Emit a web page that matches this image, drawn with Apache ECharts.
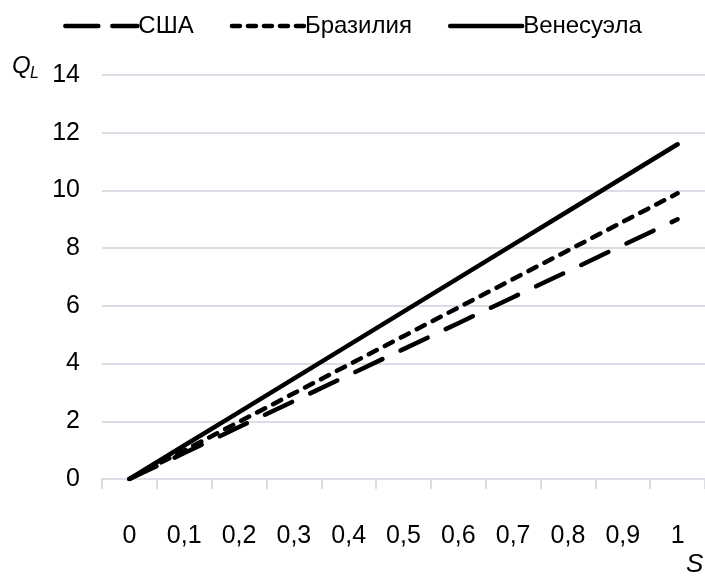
<!DOCTYPE html>
<html><head><meta charset="utf-8">
<script src="https://cdn.jsdelivr.net/npm/echarts@6/dist/echarts.min.js"></script>
<style>html,body{margin:0;padding:0;background:#fff}#c{width:705px;height:576px}</style>
</head><body><div id="c"></div>
<script>
var categories = ['0','0,1','0,2','0,3','0,4','0,5','0,6','0,7','0,8','0,9','1'];
var seriesNames = ['США','Бразилия','Венесуэла'];
var usa = [0, 0.9, 1.8, 2.7, 3.6, 4.5, 5.4, 6.3, 7.2, 8.1, 9.0];
var brazil = [0, 0.99, 1.98, 2.97, 3.96, 4.95, 5.94, 6.93, 7.92, 8.91, 9.9];
var venezuela = [0, 1.16, 2.32, 3.48, 4.64, 5.8, 6.96, 8.12, 9.28, 10.44, 11.6];
var yTicks = {min: 0, max: 14, interval: 2};

var FONT = "'Liberation Sans Narrow', 'Arial Narrow', 'Liberation Sans', sans-serif";
var chart = echarts.init(document.getElementById('c'));
function ls(type) {
  return {color: '#000', width: 4.5, type: type, cap: 'round', join: 'round'};
}
chart.setOption({
  animation: false,
  textStyle: {fontFamily: FONT},
  legend: {
    top: 9, left: 'center', itemGap: 36, itemWidth: 72, itemHeight: 14,
    textStyle: {fontFamily: FONT, fontSize: 24, color: '#000', padding: [0,0,0,-4]},
    itemStyle: {opacity: 0},
    lineStyle: {width: 4.5, cap: 'round'},
    data: [
      {name: seriesNames[0], lineStyle: {type: [33, 14]}},
      {name: seriesNames[1], lineStyle: {type: [8, 8]}},
      {name: seriesNames[2], lineStyle: {type: 'solid'}}
    ]
  },
  grid: {left: 102, top: 75, bottom: 97, width: 609.5},
  xAxis: {
    type: 'category', data: categories, boundaryGap: true,
    axisLine: {lineStyle: {color: '#d9dde5', width: 2}},
    axisTick: {show: true, length: 10, lineStyle: {color: '#d9dde5', width: 2}},
    axisLabel: {fontFamily: FONT, fontSize: 25, color: '#000', margin: 45},
    splitLine: {show: false}
  },
  yAxis: {
    type: 'value', min: yTicks.min, max: yTicks.max, interval: yTicks.interval,
    axisLine: {show: false}, axisTick: {show: false},
    axisLabel: {fontFamily: FONT, fontSize: 25, color: '#000', margin: 22},
    splitLine: {lineStyle: {color: '#d9dde5', width: 2}}
  },
  graphic: [
    {type: 'text', left: 12, top: 54, style: {text: 'Q', font: 'italic 24px ' + FONT, fill: '#000'}},
    {type: 'text', left: 30, top: 66, style: {text: 'L', font: 'italic 16px ' + FONT, fill: '#000'}},
    {type: 'text', left: 686, top: 552, style: {text: 'S', font: 'italic 26px ' + FONT, fill: '#000'}}
  ],
  series: [
    {name: seriesNames[0], type: 'line', data: usa, symbol: 'none', lineStyle: ls([30, 20]), itemStyle: {color: '#000'}, z: 3},
    {name: seriesNames[1], type: 'line', data: brazil, symbol: 'none', lineStyle: ls([9, 9]), itemStyle: {color: '#000'}, z: 4},
    {name: seriesNames[2], type: 'line', data: venezuela, symbol: 'none', lineStyle: ls('solid'), itemStyle: {color: '#000'}, z: 5}
  ]
});
</script></body></html>
